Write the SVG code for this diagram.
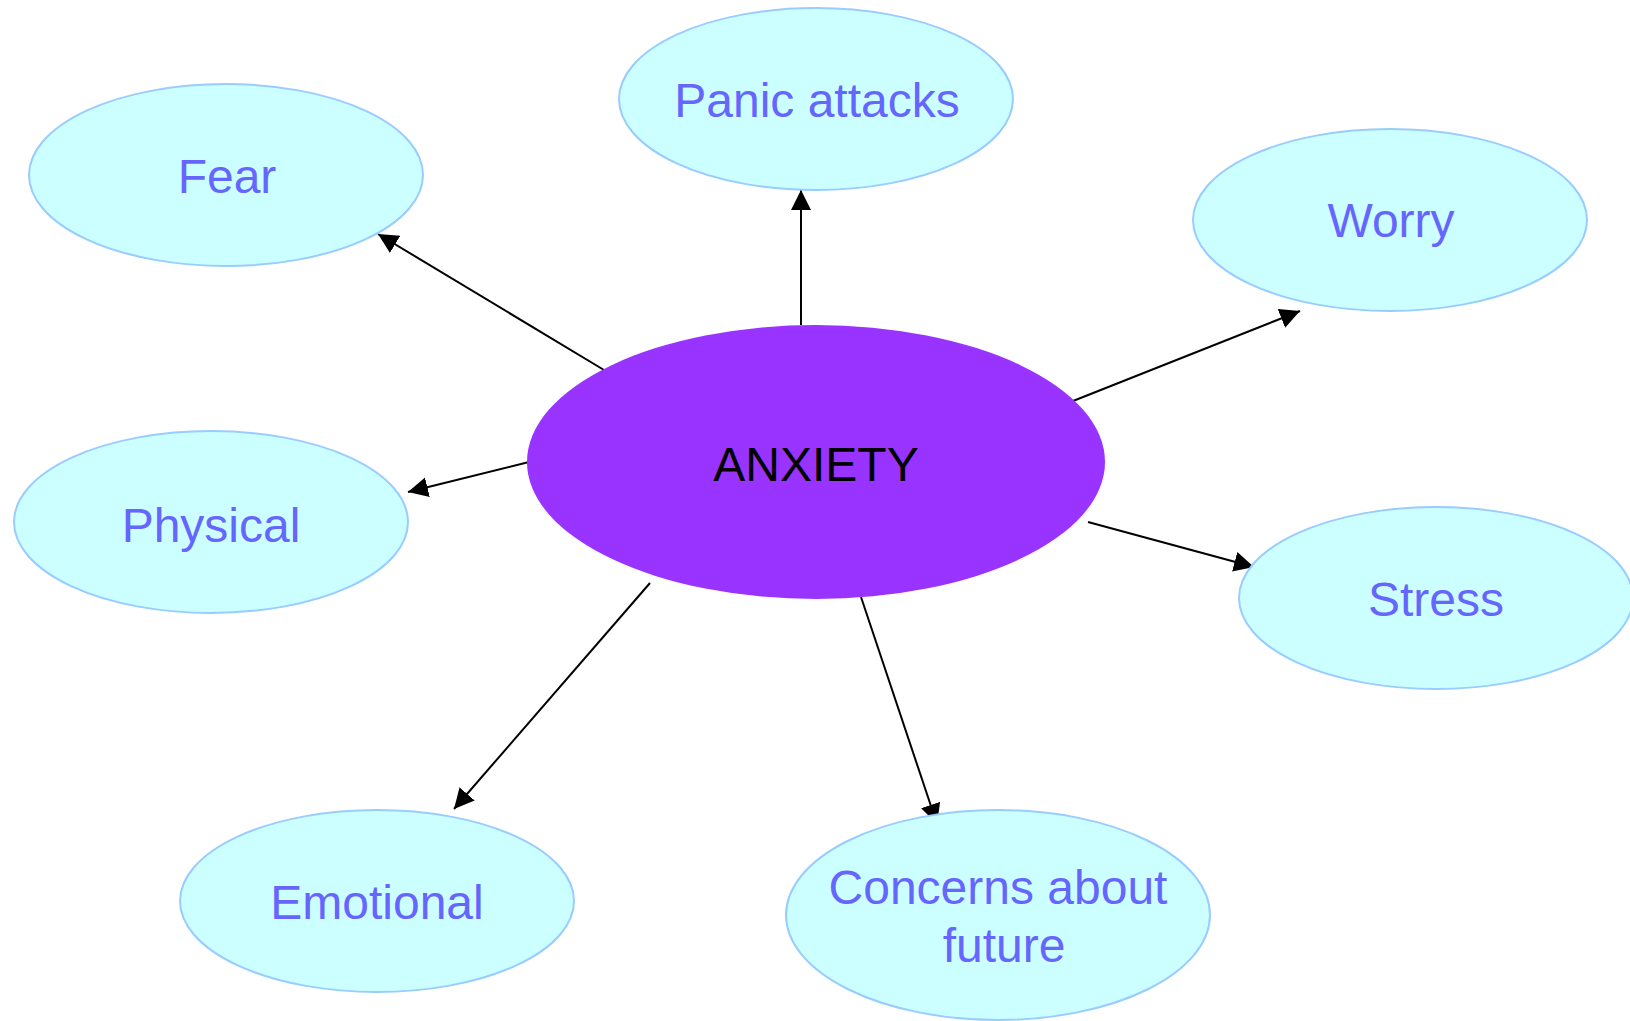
<svg xmlns="http://www.w3.org/2000/svg" width="1630" height="1021" viewBox="0 0 1630 1021">
<style>
.sat{fill:#CCFFFF;stroke:#99CCFF;stroke-width:2}
.st{font-family:"Liberation Sans",Arial,sans-serif;font-size:48px;fill:#6666FF;text-anchor:middle}
.ct{font-family:"Liberation Sans",Arial,sans-serif;font-size:48px;fill:#000000;text-anchor:middle}
.con{stroke:#000;stroke-width:2;fill:none;marker-end:url(#arr)}
</style>
<defs>
<marker id="arr" markerUnits="userSpaceOnUse" markerWidth="21" markerHeight="21" refX="20" refY="10" orient="auto">
<path d="M0,0 L20,10 L0,20 z" fill="#000"/>
</marker>
</defs>
<rect width="1630" height="1021" fill="#FFFFFF"/>
<g id="connectors">
<line class="con" x1="604" y1="370" x2="378" y2="234"/>
<line class="con" x1="801" y1="325" x2="801" y2="190"/>
<line class="con" x1="1073" y1="401" x2="1300" y2="311"/>
<line class="con" x1="529" y1="462" x2="408" y2="492"/>
<line class="con" x1="1088" y1="522" x2="1254" y2="567"/>
<line class="con" x1="650" y1="583" x2="454" y2="809"/>
<line class="con" x1="861" y1="597" x2="937" y2="824"/>
</g>
<g id="anxiety">
<ellipse cx="816" cy="462" rx="289" ry="137" fill="#9933FF"/>
<text class="ct" x="816" y="481">ANXIETY</text>
</g>
<g id="fear">
<ellipse class="sat" cx="226" cy="175" rx="197" ry="91"/>
<text class="st" x="227" y="193">Fear</text>
</g>
<g id="panic">
<ellipse class="sat" cx="816" cy="99" rx="197" ry="91"/>
<text class="st" x="817" y="117">Panic attacks</text>
</g>
<g id="worry">
<ellipse class="sat" cx="1390" cy="220" rx="197" ry="91"/>
<text class="st" x="1391" y="237">Worry</text>
</g>
<g id="physical">
<ellipse class="sat" cx="211" cy="522" rx="197" ry="91"/>
<text class="st" x="211" y="542">Physical</text>
</g>
<g id="stress">
<ellipse class="sat" cx="1436" cy="598" rx="197" ry="91"/>
<text class="st" x="1436" y="616">Stress</text>
</g>
<g id="emotional">
<ellipse class="sat" cx="377" cy="901" rx="197" ry="91"/>
<text class="st" x="377" y="919">Emotional</text>
</g>
<g id="concerns">
<ellipse class="sat" cx="998" cy="915" rx="212" ry="105"/>
<text class="st" x="998" y="904">Concerns about</text>
<text class="st" x="1004" y="962">future</text>
</g>
</svg>
